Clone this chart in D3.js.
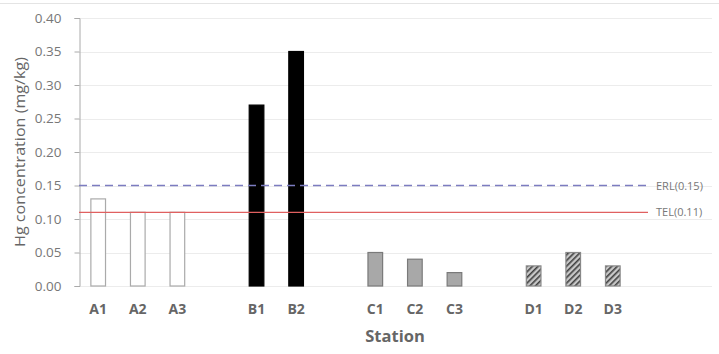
<!DOCTYPE html>
<html>
<head>
<meta charset="utf-8">
<script src="https://cdn.jsdelivr.net/npm/d3@7"></script>
<style>
  body { margin: 0; background: #fff; }
  text { font-family: "Open Sans", sans-serif; }
</style>
</head>
<body>
<script>
// chart size and plot edges
var width = 719,
    height = 354,
    plotLeft = 79,
    plotRight = 632,
    plotTop = 18,
    plotBottom = 286;

// data
var slots = ['A1', 'A2', 'A3', 'g1', 'B1', 'B2', 'g2', 'C1', 'C2', 'C3', 'g3', 'D1', 'D2', 'D3'];
var stations = ['A1', 'A2', 'A3', 'B1', 'B2', 'C1', 'C2', 'C3', 'D1', 'D2', 'D3'];
var hg = [0.13, 0.11, 0.11, 0.27, 0.35, 0.05, 0.04, 0.02, 0.03, 0.05, 0.03];
var groups = ['A', 'A', 'A', 'B', 'B', 'C', 'C', 'C', 'D', 'D', 'D'];
var yTicks = [0, 0.05, 0.10, 0.15, 0.20, 0.25, 0.30, 0.35, 0.40];
var refNames = ['ERL(0.15)', 'TEL(0.11)'];
var refValues = [0.15, 0.11];

var svg = d3.select('body').append('svg')
    .attr('width', width)
    .attr('height', height);

// hatch pattern for the D bars
var pat = svg.append('defs').append('pattern')
    .attr('id', 'hatch')
    .attr('patternUnits', 'userSpaceOnUse')
    .attr('width', 4)
    .attr('height', 4)
    .attr('patternTransform', 'rotate(45)');
pat.append('rect').attr('width', 4).attr('height', 4).attr('fill', '#c8c8c8');
pat.append('rect').attr('width', 1.6).attr('height', 4).attr('fill', '#404040');

// frame line at top
svg.append('line')
    .attr('x1', 0).attr('x2', width)
    .attr('y1', 3.5).attr('y2', 3.5)
    .attr('stroke', '#e4e4e4');

var x = d3.scaleBand().domain(slots).range([plotLeft, plotRight]).paddingInner(0.63).paddingOuter(0.3);
var y = d3.scaleLinear().domain([0, 0.4]).range([plotBottom, plotTop]);

// gridlines
svg.append('g').selectAll('line')
    .data(yTicks)
  .enter().append('line')
    .attr('x1', plotLeft).attr('x2', 712)
    .attr('y1', function(d){ return Math.round(y(d)) + 0.5; })
    .attr('y2', function(d){ return Math.round(y(d)) + 0.5; })
    .attr('stroke', '#ececec');

// y axis
var yAxis = svg.append('g')
    .attr('transform', 'translate(' + (plotLeft + 0.5) + ',0)')
    .call(d3.axisLeft(y).tickValues(yTicks).tickFormat(d3.format('.2f')).tickSizeOuter(0).tickSize(5));
yAxis.select('.domain').attr('stroke', '#aaa');
yAxis.selectAll('.tick line').attr('stroke', '#aaa');
yAxis.selectAll('.tick text')
    .attr('fill', '#777')
    .style('font-size', '13.5px')
    .attr('x', -18);

svg.append('text')
    .attr('transform', 'translate(25,152) rotate(-90)')
    .attr('text-anchor', 'middle')
    .attr('fill', '#666')
    .style('font-size', '14.5px')
    .attr('textLength', 190)
    .attr('lengthAdjust', 'spacingAndGlyphs')
    .text('Hg concentration (mg/kg)');

// bars
var fills = { A: '#fff', B: '#000', C: '#a8a8a8', D: 'url(#hatch)' };
var strokes = { A: '#aaa', B: '#000', C: '#7a7a7a', D: '#888' };

svg.append('g').selectAll('rect')
    .data(stations)
  .enter().append('rect')
    .attr('x', function(d){ return x(d); })
    .attr('width', x.bandwidth())
    .attr('y', function(d, i){ return y(hg[i]); })
    .attr('height', function(d, i){ return plotBottom - y(hg[i]); })
    .attr('fill', function(d, i){ return fills[groups[i]]; })
    .attr('stroke', function(d, i){ return strokes[groups[i]]; })
    .attr('stroke-width', 1.2);

// x labels
svg.append('g').selectAll('text')
    .data(stations)
  .enter().append('text')
    .attr('x', function(d){ return x(d) + x.bandwidth() / 2; })
    .attr('y', 314)
    .attr('text-anchor', 'middle')
    .attr('fill', '#666')
    .style('font-size', '14px')
    .style('font-weight', 'bold')
    .text(function(d){ return d; });

svg.append('text')
    .attr('x', 395)
    .attr('y', 342)
    .attr('text-anchor', 'middle')
    .attr('fill', '#666')
    .style('font-size', '16.5px')
    .style('font-weight', 'bold')
    .text('Station');

// reference lines
var refColors = ['#7c7cc0', '#e06060'];
var refDash = ['8,5', null];
refValues.forEach(function(v, i){
  svg.append('line')
      .attr('x1', plotLeft).attr('x2', 648)
      .attr('y1', y(v)).attr('y2', y(v))
      .attr('stroke', refColors[i])
      .attr('stroke-width', 1.3)
      .attr('stroke-dasharray', refDash[i]);
  svg.append('text')
      .attr('x', 656)
      .attr('y', y(v) + 4)
      .attr('fill', '#777')
      .style('font-size', '11px')
      .text(refNames[i]);
});
</script>
</body>
</html>
